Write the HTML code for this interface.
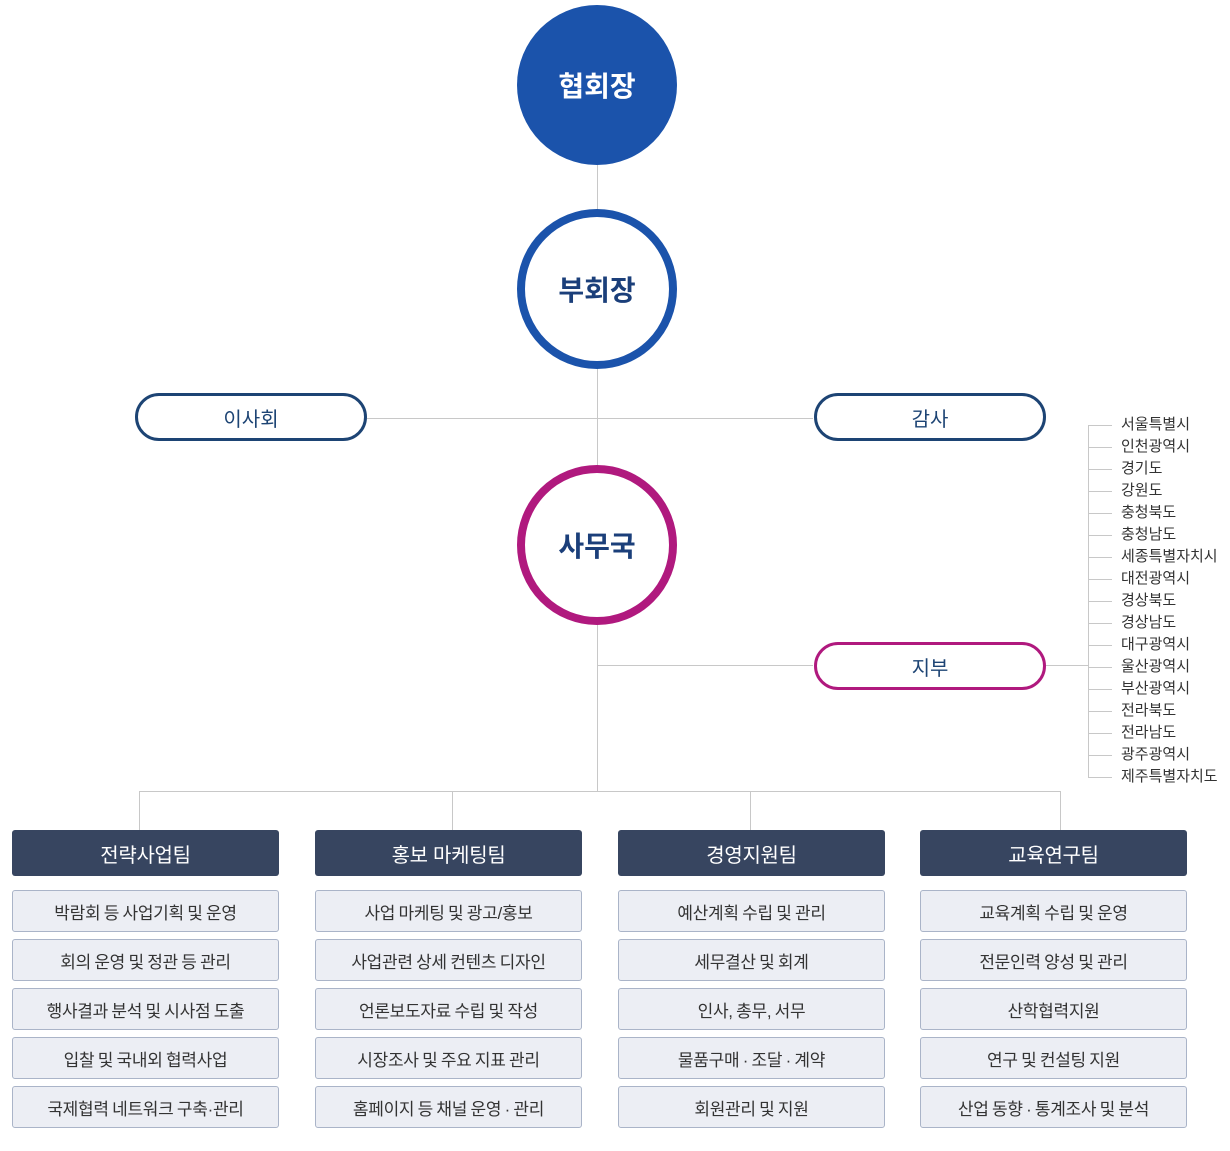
<!DOCTYPE html>
<html><head><meta charset="utf-8"><style>
body{margin:0;width:1230px;height:1151px;background:#fff;position:relative;font-family:"Liberation Sans","Noto Sans CJK KR",sans-serif;overflow:hidden}
.a{position:absolute;box-sizing:border-box}
.c{display:flex;align-items:center;justify-content:center}
.l{position:absolute;background:#c8c8c8}
.h{background:#374560;color:#fff;font-size:20px;letter-spacing:-0.3px;border-radius:3px;height:46px;width:267px;top:830px}
.i{background:#eceef4;border:1px solid #aab4c8;border-radius:3px;color:#333;font-size:17px;letter-spacing:-0.3px;word-spacing:-1px;height:42px;width:267px}
.r{position:absolute;left:1121px;font-size:15px;color:#333;line-height:16px}
.t{position:absolute;left:1088px;width:24px;height:1px;background:#c8c8c8}
</style></head><body>
<div class="l" style="left:597px;top:160px;width:1px;height:631px"></div>
<div class="l" style="left:367px;top:418px;width:446px;height:1px"></div>
<div class="l" style="left:597px;top:665px;width:216px;height:1px"></div>
<div class="l" style="left:1046px;top:665px;width:42px;height:1px"></div>
<div class="l" style="left:1088px;top:425px;width:1px;height:353px"></div>
<div class="l" style="left:139px;top:791px;width:922px;height:1px"></div>
<div class="l" style="left:139px;top:791px;width:1px;height:39px"></div>
<div class="l" style="left:452px;top:791px;width:1px;height:39px"></div>
<div class="l" style="left:750px;top:791px;width:1px;height:39px"></div>
<div class="l" style="left:1060px;top:791px;width:1px;height:39px"></div>

<div class="a c" style="left:517px;top:5px;width:160px;height:160px;border-radius:50%;background:#1b53ab;color:#fff;font-size:28px;font-weight:bold">협회장</div>
<div class="a c" style="left:517px;top:209px;width:160px;height:160px;border-radius:50%;border:8px solid #1b53ab;background:#fff;color:#1b3f7a;font-size:28px;font-weight:bold">부회장</div>
<div class="a c" style="left:517px;top:465px;width:160px;height:160px;border-radius:50%;border:8px solid #b0197e;background:#fff;color:#1b3f7a;font-size:28px;font-weight:bold">사무국</div>

<div class="a c" style="left:135px;top:393px;width:232px;height:48px;border:3px solid #1d4474;border-radius:24px;color:#1d4474;font-size:20px">이사회</div>
<div class="a c" style="left:814px;top:393px;width:232px;height:48px;border:3px solid #1d4474;border-radius:24px;color:#1d4474;font-size:20px">감사</div>
<div class="a c" style="left:814px;top:642px;width:232px;height:48px;border:3px solid #b0197e;border-radius:24px;color:#1d4474;font-size:20px">지부</div>

<div class="t" style="top:425px"></div><div class="r" style="top:417px">서울특별시</div>
<div class="t" style="top:447px"></div><div class="r" style="top:439px">인천광역시</div>
<div class="t" style="top:469px"></div><div class="r" style="top:461px">경기도</div>
<div class="t" style="top:491px"></div><div class="r" style="top:483px">강원도</div>
<div class="t" style="top:513px"></div><div class="r" style="top:505px">충청북도</div>
<div class="t" style="top:535px"></div><div class="r" style="top:527px">충청남도</div>
<div class="t" style="top:557px"></div><div class="r" style="top:549px">세종특별자치시</div>
<div class="t" style="top:579px"></div><div class="r" style="top:571px">대전광역시</div>
<div class="t" style="top:601px"></div><div class="r" style="top:593px">경상북도</div>
<div class="t" style="top:623px"></div><div class="r" style="top:615px">경상남도</div>
<div class="t" style="top:645px"></div><div class="r" style="top:637px">대구광역시</div>
<div class="t" style="top:667px"></div><div class="r" style="top:659px">울산광역시</div>
<div class="t" style="top:689px"></div><div class="r" style="top:681px">부산광역시</div>
<div class="t" style="top:711px"></div><div class="r" style="top:703px">전라북도</div>
<div class="t" style="top:733px"></div><div class="r" style="top:725px">전라남도</div>
<div class="t" style="top:755px"></div><div class="r" style="top:747px">광주광역시</div>
<div class="t" style="top:777px"></div><div class="r" style="top:769px">제주특별자치도</div>

<div class="a c h" style="left:12px">전략사업팀</div>
<div class="a c h" style="left:315px">홍보 마케팅팀</div>
<div class="a c h" style="left:618px">경영지원팀</div>
<div class="a c h" style="left:920px">교육연구팀</div>

<div class="a c i" style="left:12px;top:890px">박람회 등 사업기획 및 운영</div>
<div class="a c i" style="left:12px;top:939px">회의 운영 및 정관 등 관리</div>
<div class="a c i" style="left:12px;top:988px">행사결과 분석 및 시사점 도출</div>
<div class="a c i" style="left:12px;top:1037px">입찰 및 국내외 협력사업</div>
<div class="a c i" style="left:12px;top:1086px">국제협력 네트워크 구축·관리</div>

<div class="a c i" style="left:315px;top:890px">사업 마케팅 및 광고/홍보</div>
<div class="a c i" style="left:315px;top:939px">사업관련 상세 컨텐츠 디자인</div>
<div class="a c i" style="left:315px;top:988px">언론보도자료 수립 및 작성</div>
<div class="a c i" style="left:315px;top:1037px">시장조사 및 주요 지표 관리</div>
<div class="a c i" style="left:315px;top:1086px">홈페이지 등 채널 운영 · 관리</div>

<div class="a c i" style="left:618px;top:890px">예산계획 수립 및 관리</div>
<div class="a c i" style="left:618px;top:939px">세무결산 및 회계</div>
<div class="a c i" style="left:618px;top:988px">인사, 총무, 서무</div>
<div class="a c i" style="left:618px;top:1037px">물품구매 · 조달 · 계약</div>
<div class="a c i" style="left:618px;top:1086px">회원관리 및 지원</div>

<div class="a c i" style="left:920px;top:890px">교육계획 수립 및 운영</div>
<div class="a c i" style="left:920px;top:939px">전문인력 양성 및 관리</div>
<div class="a c i" style="left:920px;top:988px">산학협력지원</div>
<div class="a c i" style="left:920px;top:1037px">연구 및 컨설팅 지원</div>
<div class="a c i" style="left:920px;top:1086px">산업 동향 · 통계조사 및 분석</div>
</body></html>
